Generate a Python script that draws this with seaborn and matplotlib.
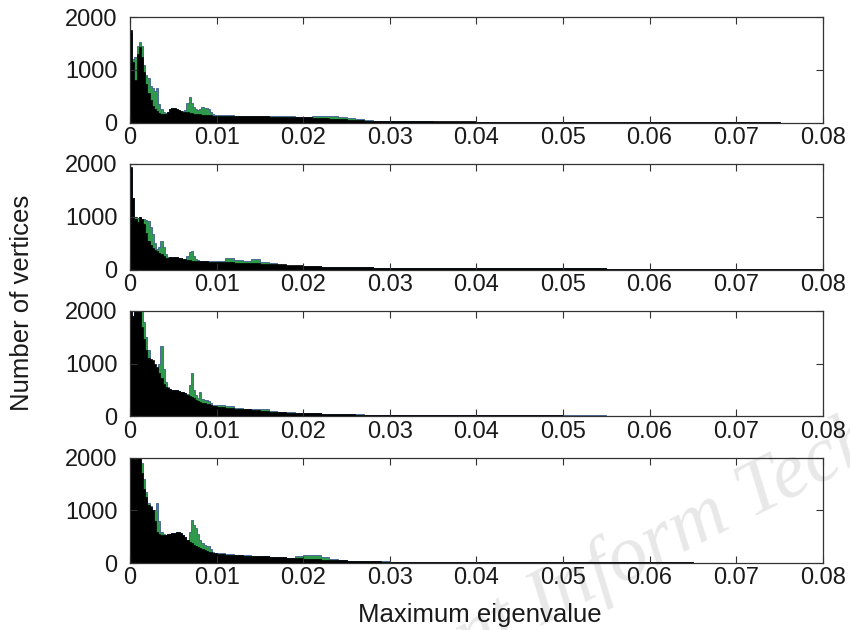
import numpy as np
import pandas as pd
import matplotlib
matplotlib.use("Agg")
import matplotlib.pyplot as plt
import seaborn as sns

# bin edges for the eigenvalue histograms (fine near zero, coarser in the tail)
edges = np.concatenate([np.arange(0, 0.01, 0.00025),
                        np.arange(0.01, 0.03, 0.001),
                        np.arange(0.03, 0.0801, 0.005)])
centers = (edges[:-1] + edges[1:]) / 2

# counts per bin, one pair (black / green) per panel
black1 = [1750, 1150, 800, 1300, 1430, 1250, 950, 730, 560, 420,
          320, 260, 220, 190, 170, 160, 165, 200, 250, 275,
          270, 255, 235, 220, 210, 200, 195, 185, 175, 170,
          165, 160, 155, 150, 148, 145, 140, 138, 135, 132,
          130, 128, 125, 122, 120, 118, 115, 112, 110, 105,
          100, 90, 80, 70, 60, 50, 42, 36, 32, 28,
          25, 22, 20, 18, 16, 12, 8, 6, 4, 2]
green1 = [1700, 1200, 1250, 1450, 1520, 1450, 1100, 900, 850, 700,
          660, 600, 650, 350, 250, 200, 190, 210, 260, 285,
          280, 265, 245, 230, 220, 240, 380, 490, 380, 290,
          260, 240, 260, 290, 280, 285, 260, 200, 160, 150,
          145, 140, 135, 132, 128, 125, 122, 120, 118, 112,
          115, 125, 135, 125, 110, 85, 65, 48, 35, 25,
          22, 20, 18, 16, 15, 15, 15, 14, 4, 1]

black2 = [1950, 1350, 950, 900, 990, 960, 860, 700, 540, 460,
          410, 370, 350, 320, 290, 250, 220, 215, 230, 240,
          235, 230, 220, 210, 205, 195, 185, 175, 170, 168,
          165, 162, 160, 158, 155, 152, 150, 148, 146, 145,
          143, 138, 130, 122, 115, 108, 100, 95, 88, 80,
          65, 60, 55, 52, 48, 45, 42, 40, 38, 36,
          32, 28, 25, 22, 20, 18, 15, 12, 10, 8]
green2 = [1900, 1350, 1000, 980, 990, 960, 950, 940, 920, 800,
          670, 500, 380, 420, 540, 420, 290, 230, 230, 240,
          235, 230, 220, 210, 205, 200, 250, 330, 350, 260,
          190, 175, 165, 162, 160, 158, 158, 160, 158, 160,
          160, 220, 175, 165, 195, 150, 120, 85, 70, 65,
          65, 60, 55, 52, 48, 45, 42, 40, 38, 36,
          32, 28, 25, 22, 20, 18, 16, 14, 10, 8]

black3 = [2400, 1900, 2000, 2300, 2200, 1700, 1460, 1250, 1100, 1080,
          1060, 1000, 940, 830, 720, 620, 560, 530, 510, 500,
          500, 490, 480, 470, 465, 440, 410, 380, 370, 340,
          310, 290, 275, 260, 250, 240, 230, 215, 200, 190,
          180, 165, 145, 130, 115, 100, 90, 80, 72, 65,
          60, 55, 50, 45, 42, 38, 35, 32, 30, 28,
          25, 22, 20, 18, 16, 14, 12, 10, 8, 6]
green3 = [2300, 1800, 2100, 2400, 2300, 2000, 1780, 1500, 1265, 1050,
          940, 900, 880, 1000, 1340, 900, 660, 560, 510, 500,
          500, 490, 480, 470, 465, 440, 420, 600, 820, 500,
          400, 340, 465, 330, 310, 310, 300, 260, 220, 210,
          210, 200, 160, 145, 145, 140, 100, 85, 75, 68,
          62, 57, 52, 47, 44, 40, 37, 34, 31, 29,
          26, 23, 21, 19, 17, 15, 13, 11, 9, 7]

black4 = [2400, 2000, 1970, 2300, 2200, 1700, 1400, 1250, 1110, 1060,
          1015, 800, 600, 560, 540, 540, 540, 545, 555, 565,
          570, 590, 590, 565, 540, 490, 445, 410, 380, 350,
          320, 300, 285, 265, 245, 230, 220, 210, 200, 190,
          180, 165, 155, 145, 138, 130, 122, 112, 100, 90,
          80, 72, 65, 58, 52, 48, 44, 40, 36, 32,
          28, 24, 22, 20, 18, 16, 14, 12, 10, 8]
green4 = [2300, 1900, 2100, 2400, 2200, 1900, 1590, 1350, 1140, 1080,
          1015, 1000, 1140, 800, 600, 550, 540, 545, 555, 565,
          570, 590, 590, 565, 540, 490, 445, 600, 825, 720,
          665, 560, 445, 380, 350, 330, 320, 260, 220, 200,
          185, 170, 160, 150, 140, 132, 124, 115, 105, 135,
          160, 150, 110, 80, 60, 50, 45, 41, 37, 33,
          29, 25, 23, 21, 19, 17, 15, 13, 11, 9]

panels = [(black1, green1), (black2, green2), (black3, green3), (black4, green4)]
xticks = [0, 0.01, 0.02, 0.03, 0.04, 0.05, 0.06, 0.07, 0.08]
xticklabels = ["0", "0.01", "0.02", "0.03", "0.04", "0.05", "0.06", "0.07", "0.08"]
yticks = [0, 1000, 2000]

sns.set_style("white")
plt.rcParams["font.family"] = ["Liberation Sans", "DejaVu Sans"]

fig, axes = plt.subplots(4, 1, figsize=(8.5, 6.3), dpi=100)
fig.subplots_adjust(left=0.153, right=0.968, top=0.973, bottom=0.106, hspace=0.39)

bin_list = [float(e) for e in edges]
for ax, (blk, grn) in zip(axes, panels):
    df = pd.DataFrame({"eig": centers, "black": blk, "green": grn})
    sns.histplot(data=df, x="eig", weights="green", bins=bin_list, element="step", fill=True,
                 color="#2f9a4c", alpha=1, edgecolor="#2f4690", linewidth=0.5, ax=ax)
    sns.histplot(data=df, x="eig", weights="black", bins=bin_list, element="step", fill=True,
                 color="black", alpha=1, edgecolor="black", linewidth=0.5, ax=ax)
    ax.set_facecolor("none")
    ax.set_xlim(0, 0.08)
    ax.set_ylim(0, 2000)
    ax.set_xticks(xticks)
    ax.set_xticklabels(xticklabels)
    ax.set_yticks(yticks)
    ax.set_xlabel("")
    ax.set_ylabel("")
    ax.tick_params(direction="in", length=5, width=0.8, color="#333333",
                   top=True, right=True, bottom=True, left=True,
                   labelsize=17, labelcolor="#1a1a1a")
    ax.tick_params(axis="x", pad=3)
    ax.tick_params(axis="y", pad=9)
    for s in ax.spines.values():
        s.set_visible(True)
        s.set_color("#333333")
        s.set_linewidth(0.9)
    ax.set_axisbelow(False)

fig.text(0.026, 0.52, "Number of vertices", rotation=90, ha="center", va="center",
         fontsize=18.5, color="#1a1a1a")
fig.text(0.564, 0.024, "Maximum eigenvalue", ha="center", va="center",
         fontsize=18.5, color="#1a1a1a")

# faint journal watermark in the lower right
fig.text(0.43, -0.135, "Front Inform Technol", rotation=27, rotation_mode="anchor",
         ha="left", va="baseline", fontsize=57, style="italic",
         family=["Liberation Serif", "DejaVu Serif"], color="#e8e8e8", zorder=-1)

fig.savefig("out.png", dpi=100)
